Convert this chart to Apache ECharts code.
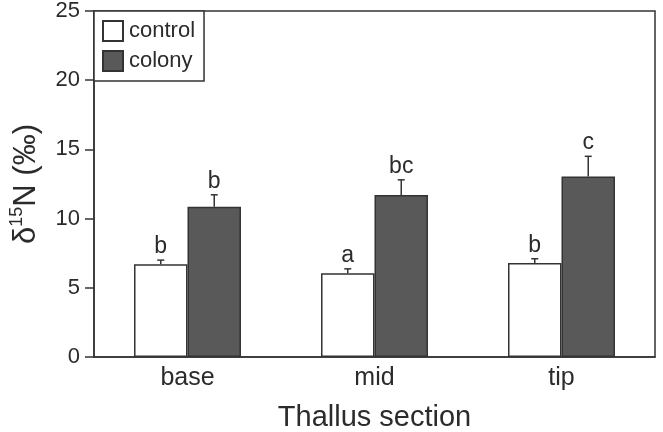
<!DOCTYPE html>
<html><head><meta charset="utf-8">
<script src="https://cdn.jsdelivr.net/npm/echarts@6/dist/echarts.min.js"></script>
<style>html,body{margin:0;padding:0;background:#fff}#c{width:663px;height:432px}</style>
</head><body><div id="c"></div>
<script>
const categories = ['base', 'mid', 'tip'];
const controlMean = [6.7, 6.05, 6.8];
const controlErr = [0.3, 0.32, 0.3];
const colonyMean = [10.85, 11.7, 13.05];
const colonyErr = [0.87, 1.1, 1.45];
const controlLetters = ['b', 'a', 'b'];
const colonyLetters = ['b', 'bc', 'c'];
const yTicks = [0, 5, 10, 15, 20, 25];

const FONT = 'Liberation Sans, Arial, Helvetica, sans-serif';
const INK = '#2b2b2b';
const DARK = '#595959';
const BAR_FRAC = 0.286;

function errSeries(name, means, errs, letters, side) {
  return {
    type: 'custom', name: name + '_err', silent: true, z: 5,
    data: means.map((m, i) => [i, m, errs[i]]),
    renderItem: function (params, api) {
      const i = api.value(0), m = api.value(1), e = api.value(2);
      const band = api.size([1, 0])[0];
      const c = api.coord([i, m]);
      const x = c[0] + side * band * BAR_FRAC / 2;
      const yTop = api.coord([i, m + e])[1];
      const y0 = c[1];
      return {
        type: 'group', children: [
          { type: 'line', shape: { x1: x, y1: y0, x2: x, y2: yTop }, style: { stroke: '#333', lineWidth: 1.5 } },
          { type: 'line', shape: { x1: x - 3.5, y1: yTop, x2: x + 3.5, y2: yTop }, style: { stroke: '#333', lineWidth: 1.5 } },
          { type: 'text', style: { text: letters[i], x: x, y: yTop - 2, align: 'center', verticalAlign: 'bottom', font: '23px ' + FONT, fill: INK } }
        ]
      };
    }
  };
}

const chart = echarts.init(document.getElementById('c'), null, { renderer: 'canvas' });
chart.setOption({
  animation: false,
  backgroundColor: '#fff',
  textStyle: { fontFamily: FONT, color: INK },
  grid: { left: 94, right: 8, top: 11, bottom: 75, outerBoundsMode: 'none', containLabel: false,
    show: true, borderColor: '#333', borderWidth: 1.5, backgroundColor: 'transparent' },
  legend: {
    orient: 'vertical', left: 94, top: 11,
    data: ['control', 'colony'],
    icon: 'rect', itemWidth: 20, itemHeight: 20, itemGap: 8,
    borderColor: '#333', borderWidth: 1.5, padding: [9, 9, 9, 8],
    backgroundColor: '#fff',
    textStyle: { fontSize: 22, color: INK, fontFamily: FONT, padding: [0, 0, 0, 1] }
  },
  xAxis: {
    type: 'category', data: categories,
    axisLine: { lineStyle: { color: '#333', width: 1.5 } },
    axisTick: { show: false },
    axisLabel: { fontSize: 25, color: INK, margin: 9, fontFamily: FONT },
    name: 'Thallus section', nameLocation: 'middle', nameGap: 46,
    nameTextStyle: { fontSize: 29, color: INK, fontFamily: FONT }
  },
  yAxis: {
    type: 'value', min: 0, max: 25, interval: 5,
    axisLine: { show: true, lineStyle: { color: '#333', width: 1.5 } },
    axisTick: { show: true, inside: false, length: 9, lineStyle: { color: '#333', width: 1.5 } },
    axisLabel: { fontSize: 22, color: INK, margin: 14, fontFamily: FONT, formatter: v => yTicks.includes(v) ? String(v) : '' },
    splitLine: { show: false },
    name: '{d|δ}{s|15}{d|N (‰)}', nameLocation: 'middle', nameGap: 52,
    nameTextStyle: {
      color: INK, fontFamily: FONT,
      rich: {
        d: { fontSize: 31, color: INK, fontFamily: FONT, verticalAlign: 'bottom', lineHeight: 34 },
        s: { fontSize: 18, color: INK, fontFamily: FONT, verticalAlign: 'top', lineHeight: 34 }
      }
    }
  },
  series: [
    { type: 'bar', name: 'control', data: controlMean, barWidth: (BAR_FRAC * 100) + '%', barGap: '0%',
      itemStyle: { color: '#fff', borderColor: '#333', borderWidth: 1.5 } },
    { type: 'bar', name: 'colony', data: colonyMean, barWidth: (BAR_FRAC * 100) + '%', barGap: '0%',
      itemStyle: { color: DARK, borderColor: '#333', borderWidth: 1.5 } },
    errSeries('control', controlMean, controlErr, controlLetters, -1),
    errSeries('colony', colonyMean, colonyErr, colonyLetters, 1)
  ]
});
</script></body></html>
